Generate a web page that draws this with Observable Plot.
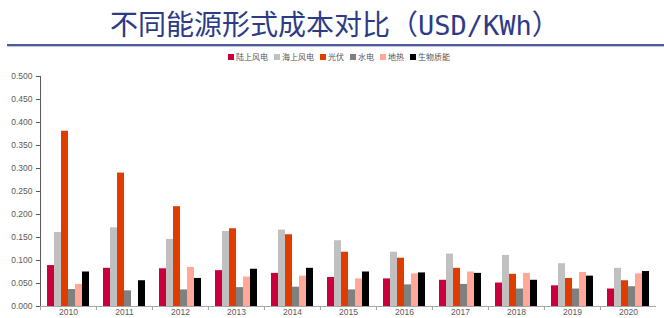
<!DOCTYPE html>
<html><head><meta charset="utf-8">
<script src="https://cdn.jsdelivr.net/npm/d3@7"></script>
<script src="https://cdn.jsdelivr.net/npm/@observablehq/plot@0.6"></script>
<style>
body{margin:0;background:#fff;width:664px;height:318px;overflow:hidden;position:relative;font-family:"Noto Sans CJK SC",sans-serif}
#title{position:absolute;left:110px;top:9px;font-size:28px;line-height:28px;color:#2d3b85;white-space:nowrap}
#title .lat{font-family:"DejaVu Sans Mono",monospace;font-size:27px}
#rule{position:absolute;left:7px;top:44px;width:657px;height:2px;background:#4d5b99;box-shadow:0 1px 1px #b8c0dc}
#legend{position:absolute;left:228px;top:52px;display:flex;gap:6px;font-size:8px;line-height:10px;color:#555;white-space:nowrap}
#legend span.it{display:flex;align-items:center}
#legend i{display:inline-block;width:6px;height:6px;margin-right:2px}
#chart{position:absolute;left:0;top:62px}
svg [aria-label="frame"]{stroke:#a6a6a6}
</style></head>
<body>
<div id="title">不同能源形式成本对比（<span class="lat">USD/KWh</span>）</div>
<div id="rule"></div>
<div id="legend"></div>
<div id="chart"></div>
<script>
const years = [2010, 2011, 2012, 2013, 2014, 2015, 2016, 2017, 2018, 2019, 2020];
const series = ["陆上风电", "海上风电", "光伏", "水电", "地热", "生物质能"];
const colors = ["#c8003c", "#c0c0c0", "#df3d00", "#808080", "#ffa898", "#000000"];
const onshoreWind  = [0.089, 0.083, 0.082, 0.078, 0.072, 0.063, 0.060, 0.057, 0.051, 0.045, 0.038];
const offshoreWind = [0.161, 0.171, 0.146, 0.163, 0.166, 0.143, 0.118, 0.114, 0.111, 0.093, 0.083];
const solarPV      = [0.381, 0.290, 0.217, 0.169, 0.156, 0.118, 0.105, 0.083, 0.070, 0.061, 0.056];
const hydro        = [0.037, 0.034, 0.036, 0.041, 0.042, 0.036, 0.047, 0.048, 0.038, 0.038, 0.043];
const geothermal   = [0.048, null,  0.085, 0.064, 0.066, 0.060, 0.071, 0.075, 0.072, 0.074, 0.071];
const bioenergy    = [0.075, 0.056, 0.061, 0.081, 0.083, 0.075, 0.073, 0.072, 0.057, 0.066, 0.076];
const yTicks = [0, 0.05, 0.1, 0.15, 0.2, 0.25, 0.3, 0.35, 0.4, 0.45, 0.5];

const valuesBySeries = [onshoreWind, offshoreWind, solarPV, hydro, geothermal, bioenergy];
const data = [];
years.forEach((yr, i) => series.forEach((s, j) => {
  const v = valuesBySeries[j][i];
  if (v != null) data.push({year: yr, series: s, value: v});
}));

// legend
const lg = document.getElementById("legend");
series.forEach((s, j) => {
  const it = document.createElement("span");
  it.className = "it";
  it.innerHTML = `<i style="background:${colors[j]}"></i>${s}`;
  lg.appendChild(it);
});

const chart = Plot.plot({
  width: 664,
  height: 256,
  marginLeft: 40,
  marginRight: 8,
  marginTop: 14,
  marginBottom: 12,
  style: {fontSize: "8.5px", color: "#5a5a5a", fontFamily: "Liberation Sans, Arial, sans-serif", background: "transparent"},
  fx: {domain: years, padding: 0, label: null},
  x: {domain: series, paddingInner: 0, paddingOuter: 0.73, axis: null},
  y: {domain: [0, 0.5], ticks: yTicks, tickFormat: d3.format(".3f"), tickSize: 4, tickPadding: 4, label: null, line: true},
  color: {domain: series, range: colors},
  marks: [
    Plot.barY(data, {fx: "year", x: "series", y: "value", fill: "series"}),
    Plot.ruleY([0], {stroke: "#a6a6a6"}),
    Plot.axisFx({anchor: "bottom", tickSize: 4, text: null, dx: -28, stroke: "#a6a6a6"}),
    Plot.axisFx({anchor: "bottom", tickSize: 0, tickPadding: 2, label: null, tickFormat: d => String(d), fill: "#5a5a5a"})
  ]
});
document.getElementById("chart").appendChild(chart);
</script>
</body></html>
